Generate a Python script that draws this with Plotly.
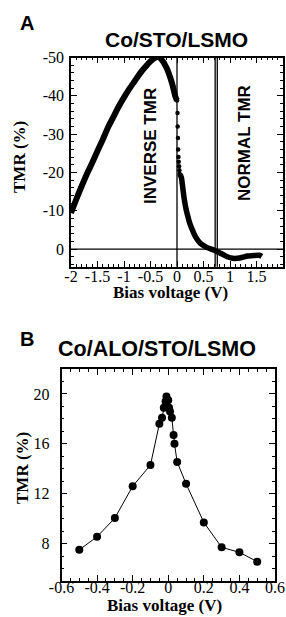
import plotly.graph_objects as go

W, H = 286, 617

# ---------------- Panel A: Co/STO/LSMO ----------------
# dense negative-bias branch (thick curve)
a_left_bias = [-2.0, -1.9, -1.8, -1.7, -1.6, -1.5, -1.4, -1.3, -1.2, -1.1, -1.0, -0.9,
               -0.8, -0.7, -0.6, -0.5, -0.4, -0.35, -0.3, -0.2, -0.1, -0.03, 0.0]
a_left_tmr = [-9.4, -13.0, -16.4, -19.6, -22.5, -25.6, -28.6, -31.8, -34.5, -37.2, -39.6, -41.8,
              -43.8, -45.8, -47.5, -49.0, -50.0, -50.1, -49.6, -47.4, -43.6, -39.8, -38.8]
# sparse points of the steep drop near zero bias
a_drop_bias = [0.0, 0.01, 0.012, 0.018, 0.022, 0.027, 0.032, 0.038, 0.045, 0.05]
a_drop_tmr = [-38.8, -35.5, -32.0, -29.0, -26.0, -24.0, -22.8, -21.6, -20.6, -19.6]
# dense positive-bias branch (thick curve)
a_right_bias = [0.05, 0.08, 0.1, 0.13, 0.16, 0.19, 0.24, 0.29, 0.35, 0.44, 0.55, 0.7,
                0.85, 0.95, 1.05, 1.14, 1.25, 1.33, 1.45, 1.55, 1.6]
a_right_tmr = [-19.6, -18.8, -17.0, -13.7, -11.2, -9.3, -6.8, -5.0, -3.2, -1.5, -0.5, 0.3,
               1.3, 2.0, 2.4, 2.4, 2.1, 1.8, 1.7, 1.6, 1.9]
a_vlines = [0.0, 0.72, 0.76]
a_hlines = [0.0]
a_xtick_vals = [-2, -1.5, -1, -0.5, 0, 0.5, 1, 1.5, 2]
a_xtick_text = ["-2", "-1.5", "-1", "-0.5", "0", "0.5", "1", "1.5", "2"]
a_ytick_vals = [-50, -40, -30, -20, -10, 0]
a_ytick_text = ["-50", "-40", "-30", "-20", "-10", "0"]

# ---------------- Panel B: Co/ALO/STO/LSMO ----------------
b_bias = [-0.5, -0.4, -0.3, -0.2, -0.1, -0.05, -0.035, -0.025, -0.015, -0.01, 0.0, 0.005,
          0.01, 0.02, 0.03, 0.035, 0.05, 0.1, 0.2, 0.3, 0.4, 0.5]
b_tmr = [7.5, 8.55, 10.05, 12.6, 14.3, 17.6, 18.1, 18.9, 19.4, 19.8, 19.5, 18.9,
         18.6, 18.1, 16.7, 16.0, 14.55, 12.8, 9.7, 7.7, 7.3, 6.55]
b_xtick_vals = [-0.6, -0.4, -0.2, 0, 0.2, 0.4, 0.6]
b_xtick_text = ["-0.6", "-0.4", "-0.2", "0", "0.2", "0.4", "0.6"]
b_ytick_vals = [8, 12, 16, 20]
b_ytick_text = ["8", "12", "16", "20"]

SERIF = "Liberation Serif"
SANS = "Liberation Sans"


def px(x):
    return x / W


def py(y):
    return 1 - y / H


fig = go.Figure()
fig.add_trace(go.Scatter(x=a_left_bias, y=a_left_tmr, mode="lines",
                         line=dict(color="black", width=6, shape="spline"),
                         xaxis="x", yaxis="y", showlegend=False))
fig.add_trace(go.Scatter(x=a_drop_bias, y=a_drop_tmr, mode="markers",
                         marker=dict(color="black", size=4.5),
                         xaxis="x", yaxis="y", showlegend=False))
fig.add_trace(go.Scatter(x=a_right_bias, y=a_right_tmr, mode="lines",
                         line=dict(color="black", width=5.5, shape="spline"),
                         xaxis="x", yaxis="y", showlegend=False))
fig.add_trace(go.Scatter(x=b_bias, y=b_tmr, mode="lines+markers",
                         line=dict(color="black", width=1),
                         marker=dict(color="black", size=8),
                         xaxis="x2", yaxis="y2", showlegend=False))

for v in a_vlines:
    fig.add_shape(type="line", xref="x", yref="y domain", x0=v, x1=v, y0=0, y1=1,
                  line=dict(color="black", width=1.3))
for h in a_hlines:
    fig.add_shape(type="line", xref="x domain", yref="y", x0=0, x1=1, y0=h, y1=h,
                  line=dict(color="black", width=1.3))

axis_common = dict(showline=True, linecolor="black", linewidth=1.5, mirror="allticks",
                   ticks="inside", ticklen=6, tickwidth=1.2, tickcolor="black",
                   showgrid=False, zeroline=False, automargin=False,
                   tickfont=dict(family=SERIF, size=16, color="black"))

fig.update_layout(
    width=W, height=H, margin=dict(l=0, r=0, t=0, b=0, autoexpand=False),
    paper_bgcolor="white", plot_bgcolor="white",
    xaxis=dict(domain=[px(71), px(283)], range=[-2, 2], anchor="y",
               tickmode="array", tickvals=a_xtick_vals, ticktext=a_xtick_text,
               minor=dict(dtick=0.1, tick0=0, ticks="inside", ticklen=3, tickcolor="black"),
               ticklabelstandoff=-6, **axis_common),
    yaxis=dict(domain=[py(266.7), py(57.5)], range=[4.6, -50], anchor="x",
               tickmode="array", tickvals=a_ytick_vals, ticktext=a_ytick_text,
               minor=dict(dtick=2, tick0=0, ticks="inside", ticklen=3, tickcolor="black"),
               ticklabelstandoff=2, **axis_common),
    xaxis2=dict(domain=[px(61.5), px(275)], range=[-0.6, 0.6], anchor="y2",
                tickmode="array", tickvals=b_xtick_vals, ticktext=b_xtick_text,
                minor=dict(dtick=0.05, tick0=0, ticks="inside", ticklen=3, tickcolor="black"),
                ticklabelstandoff=-9, **axis_common),
    yaxis2=dict(domain=[py(581), py(369)], range=[5, 22], anchor="x2",
                tickmode="array", tickvals=b_ytick_vals, ticktext=b_ytick_text,
                minor=dict(dtick=1, tick0=0, ticks="inside", ticklen=3, tickcolor="black"),
                ticklabelstandoff=7, **axis_common),
)

ann = []


def add_text(text, x, y, size, family, angle=0, xanchor="center"):
    ann.append(dict(text=text, x=px(x), y=py(y), xref="paper", yref="paper",
                    showarrow=False, textangle=angle, xanchor=xanchor, yanchor="middle",
                    font=dict(family=family, size=size, color="black")))


add_text("<b>A</b>", 18, 23, 20, SANS, xanchor="left")
add_text("<b>Co/STO/LSMO</b>", 176, 40, 21, SANS)
add_text("<b>INVERSE TMR</b>", 150, 146, 17, SANS, angle=-90)
add_text("<b>NORMAL TMR</b>", 245, 143, 17, SANS, angle=-90)
add_text("<b>TMR (%)</b>", 19, 157, 17, SERIF, angle=-90)
add_text("<b>Bias voltage (V)</b>", 170, 292, 17, SERIF)

add_text("<b>B</b>", 18, 339, 20, SANS, xanchor="left")
add_text("<b>Co/ALO/STO/LSMO</b>", 157, 349, 21.5, SANS)
add_text("<b>TMR (%)</b>", 22, 468, 17, SERIF, angle=-90)
add_text("<b>Bias voltage (V)</b>", 164, 605, 17, SERIF)

fig.update_layout(annotations=ann)

fig.write_html("out.html", config={"displayModeBar": False},
               post_script="document.body.style.margin='0px';document.body.style.overflow='hidden';")
